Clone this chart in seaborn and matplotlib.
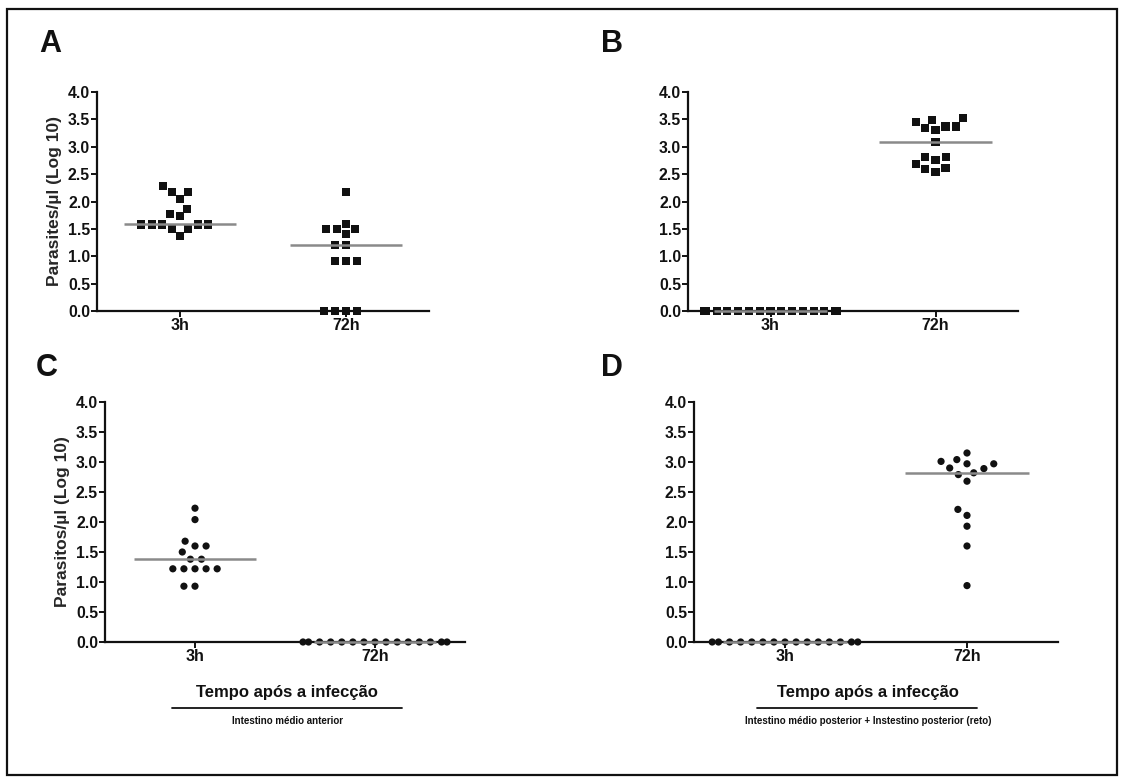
import matplotlib
matplotlib.use("Agg")
import matplotlib.pyplot as plt
import seaborn as sns
import pandas as pd
import numpy as np

# Categories on the x axis
tempos = ["3h", "72h"]

# Panel A: anterior midgut (squares)
a_3h = [2.28, 2.18, 2.18, 2.05, 1.87, 1.78, 1.73, 1.58, 1.58, 1.58, 1.58, 1.58, 1.50, 1.50, 1.37]
a_72h = [2.18, 1.59, 1.50, 1.50, 1.50, 1.40, 1.20, 1.20, 0.92, 0.92, 0.92, 0.0, 0.0, 0.0, 0.0]

# Panel B: posterior midgut + rectum (squares)
b_3h = [0.0] * 15
b_72h = [3.52, 3.48, 3.45, 3.37, 3.37, 3.34, 3.30, 3.09, 2.82, 2.82, 2.76, 2.68, 2.61, 2.59, 2.54]

# Panel C: anterior midgut (circles)
c_3h = [2.23, 2.04, 1.68, 1.60, 1.60, 1.50, 1.38, 1.38, 1.22, 1.22, 1.22, 1.22, 1.22, 0.93, 0.93]
c_72h = [0.0] * 15

# Panel D: posterior midgut + rectum (circles)
d_3h = [0.0] * 15
d_72h = [3.15, 3.04, 3.01, 2.97, 2.97, 2.90, 2.89, 2.82, 2.79, 2.68, 2.21, 2.11, 1.93, 1.60, 0.94]

y_ticks = [0.0, 0.5, 1.0, 1.5, 2.0, 2.5, 3.0, 3.5, 4.0]
ylabel_top = "Parasites/µl (Log 10)"
ylabel_bottom = "Parasitos/µl (Log 10)"
xtitle = "Tempo após a infecção"
sub_c = "Intestino médio anterior"
sub_d = "Intestino médio posterior + Instestino posterior (reto)"

sns.set_theme(style="ticks")
plt.rcParams["font.family"] = ["Liberation Sans", "DejaVu Sans"]
plt.rcParams["font.weight"] = "bold"

INK = "#111111"
W, H = 1123, 782
fig = plt.figure(figsize=(W / 100, H / 100), dpi=100)
fig.patch.set_facecolor("white")


def px_axes(left, top, right, bottom):
    return fig.add_axes([left / W, 1 - bottom / H, (right - left) / W, (bottom - top) / H])


def panel(ax, v3, v72, marker, msize, gap, ylabel=None):
    df = pd.DataFrame({
        "tempo": ["3h"] * len(v3) + ["72h"] * len(v72),
        "valor": list(v3) + list(v72),
    })
    # an invisible edge keeps a small gap between neighbouring markers
    sns.swarmplot(data=df, x="tempo", y="valor", order=tempos, ax=ax,
                  color=INK, marker=marker, size=msize, linewidth=gap,
                  edgecolor="none", zorder=3, warn_thresh=1.0)
    for coll in ax.collections:
        coll.set_clip_on(False)
        coll.set_edgecolor("none")
    for i, vals in enumerate([v3, v72]):
        med = np.median(vals)
        ax.plot([i - 0.34, i + 0.34], [med, med], color="#8a8a8a", lw=1.8,
                zorder=4, solid_capstyle="butt", clip_on=False)
    ax.set_xlim(-0.5, 1.5)
    ax.set_ylim(0, 4)
    ax.set_yticks(y_ticks)
    ax.set_yticklabels([f"{t:.1f}" for t in y_ticks], fontsize=11.3, fontweight="bold")
    ax.set_xticks([0, 1])
    ax.set_xticklabels(tempos, fontsize=11.5, fontweight="bold")
    ax.set_xlabel("")
    if ylabel:
        ax.set_ylabel(ylabel, fontsize=12.5, fontweight="bold", labelpad=4)
    else:
        ax.set_ylabel("")
    ax.set_facecolor("none")
    for s in ["top", "right"]:
        ax.spines[s].set_visible(False)
    for s in ["left", "bottom"]:
        ax.spines[s].set_linewidth(1.6)
        ax.spines[s].set_color(INK)
    ax.tick_params(axis="both", direction="out", length=4, width=1.4,
                   color=INK, labelcolor=INK, pad=1)


ax_a = px_axes(97, 92, 429, 311)
panel(ax_a, a_3h, a_72h, "s", 5.8, 1.6, ylabel_top)
ax_b = px_axes(688, 92, 1018, 311)
panel(ax_b, b_3h, b_72h, "s", 5.8, 1.6)
ax_c = px_axes(105, 402, 465, 642)
panel(ax_c, c_3h, c_72h, "o", 5.2, 2.4, ylabel_bottom)
ax_d = px_axes(694, 402, 1058, 642)
panel(ax_d, d_3h, d_72h, "o", 5.2, 2.4)

# Panel letters
for letter, x, y in [("A", 50, 44), ("B", 612, 44), ("C", 47, 368), ("D", 612, 368)]:
    fig.text(x / W, 1 - y / H, letter, fontsize=22, fontweight="bold",
             ha="center", va="center", color=INK)

# Axis titles with underline and region subtitle below
for cx, x0, x1, sub in [(287, 172, 402, sub_c), (868, 757, 977, sub_d)]:
    fig.text(cx / W, 1 - 692 / H, xtitle, fontsize=12, fontweight="bold",
             ha="center", va="center", color=INK)
    fig.add_artist(plt.Line2D([x0 / W, x1 / W], [1 - 708 / H, 1 - 708 / H],
                              color=INK, lw=1.3))
    fig.text(cx / W, 1 - 721 / H, sub, fontsize=7, fontweight="bold",
             ha="center", va="center", color=INK)

# Outer frame
fig.add_artist(plt.Rectangle((7 / W, 1 - 775 / H), (1117 - 7) / W, (775 - 9) / H,
                             fill=False, edgecolor=INK, lw=1.6,
                             transform=fig.transFigure))

fig.savefig("out.png", dpi=100, facecolor="white")
